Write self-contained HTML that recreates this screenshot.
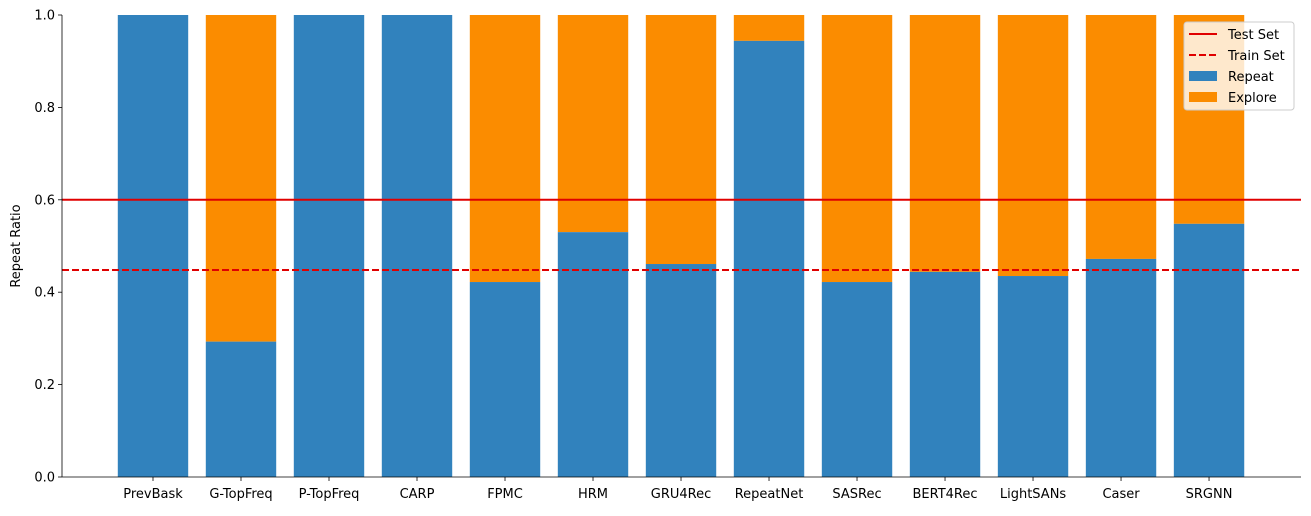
<!DOCTYPE html>
<html><head><meta charset="utf-8"><style>
body{margin:0;background:#fff;}
svg text{font-family:"DejaVu Sans","Liberation Sans",sans-serif;font-size:13px;fill:#000;}
</style></head><body>
<svg id="chart" width="1311" height="511" xmlns="http://www.w3.org/2000/svg"></svg>
<script>
const categories=["PrevBask","G-TopFreq","P-TopFreq","CARP","FPMC","HRM","GRU4Rec","RepeatNet","SASRec","BERT4Rec","LightSANs","Caser","SRGNN"];
const repeatValues=[1,0.293,1,1,0.422,0.530,0.461,0.944,0.422,0.444,0.435,0.472,0.548];
const testSetRatio=0.600;
const trainSetRatio=0.448;
const yTicks=[0,0.2,0.4,0.6,0.8,1.0];
const yTickLabels=["0.0","0.2","0.4","0.6","0.8","1.0"];

const NS="http://www.w3.org/2000/svg";
const svg=document.getElementById('chart');
const L=62,R=1301,T=15,B=477;
const xMin=-1.034,xMax=12+1.045;
const x=v=>L+(v-xMin)/(xMax-xMin)*(R-L);
const y=v=>B-v*(B-T);
function mk(tag,attrs,parent){const e=document.createElementNS(NS,tag);for(const k in attrs)e.setAttribute(k,attrs[k]);(parent||svg).appendChild(e);return e;}
const bw=(x(0.8)-x(0));
const blue="#3182bd",orange="#fb8c00";
categories.forEach((c,i)=>{
  const cx=x(i);
  const ex=mk('rect',{x:cx-bw/2,y:y(1),width:bw,height:y(repeatValues[i])-y(1),fill:orange});
  
  
  const rp=mk('rect',{x:cx-bw/2,y:y(repeatValues[i]),width:bw,height:y(0)-y(repeatValues[i]),fill:blue});
  
  
  mk('line',{x1:cx,x2:cx,y1:B,y2:B+4,stroke:'#000','stroke-width':0.8});
  const t=mk('text',{x:cx,y:B+21,'text-anchor':'middle'});t.textContent=c;
  
  
});
const tl=mk('line',{x1:L,x2:R,y1:y(testSetRatio),y2:y(testSetRatio),stroke:'#e00000','stroke-width':2});


const trl=mk('line',{x1:L,x2:R,y1:y(trainSetRatio),y2:y(trainSetRatio),stroke:'#e00000','stroke-width':2,'stroke-dasharray':'7,3'});


yTicks.forEach((v,i)=>{
  mk('line',{x1:L-4,x2:L,y1:y(v),y2:y(v),stroke:'#000','stroke-width':0.8});
  const t=mk('text',{x:L-7,y:y(v)+4.5,'text-anchor':'end'});t.textContent=yTickLabels[i];
  
  
});
mk('line',{x1:L,x2:L,y1:T,y2:B,stroke:'#000','stroke-width':0.8});
mk('line',{x1:L,x2:R,y1:B,y2:B,stroke:'#000','stroke-width':0.8});
const yt=mk('text',{x:20,y:246,'text-anchor':'middle',transform:'rotate(-90 20 246)'});yt.textContent="Repeat Ratio";


// legend
const lg=mk('g',{});


mk('rect',{x:1184,y:22,width:110,height:88,rx:3,fill:'#fff','fill-opacity':0.8,stroke:'#ccc'},lg);
mk('line',{x1:1189,x2:1217,y1:34,y2:34,stroke:'#e00000','stroke-width':2},lg);
mk('line',{x1:1189,x2:1217,y1:55,y2:55,stroke:'#e00000','stroke-width':2,'stroke-dasharray':'7,3'},lg);
mk('rect',{x:1189,y:71,width:28,height:10,fill:blue},lg);
mk('rect',{x:1189,y:92,width:28,height:10,fill:orange},lg);
[["Test Set",39],["Train Set",60],["Repeat",81],["Explore",102]].forEach(([s,yy])=>{
  const t=mk('text',{x:1228,y:yy},lg);t.textContent=s;
  
  
});
</script>
</body></html>
